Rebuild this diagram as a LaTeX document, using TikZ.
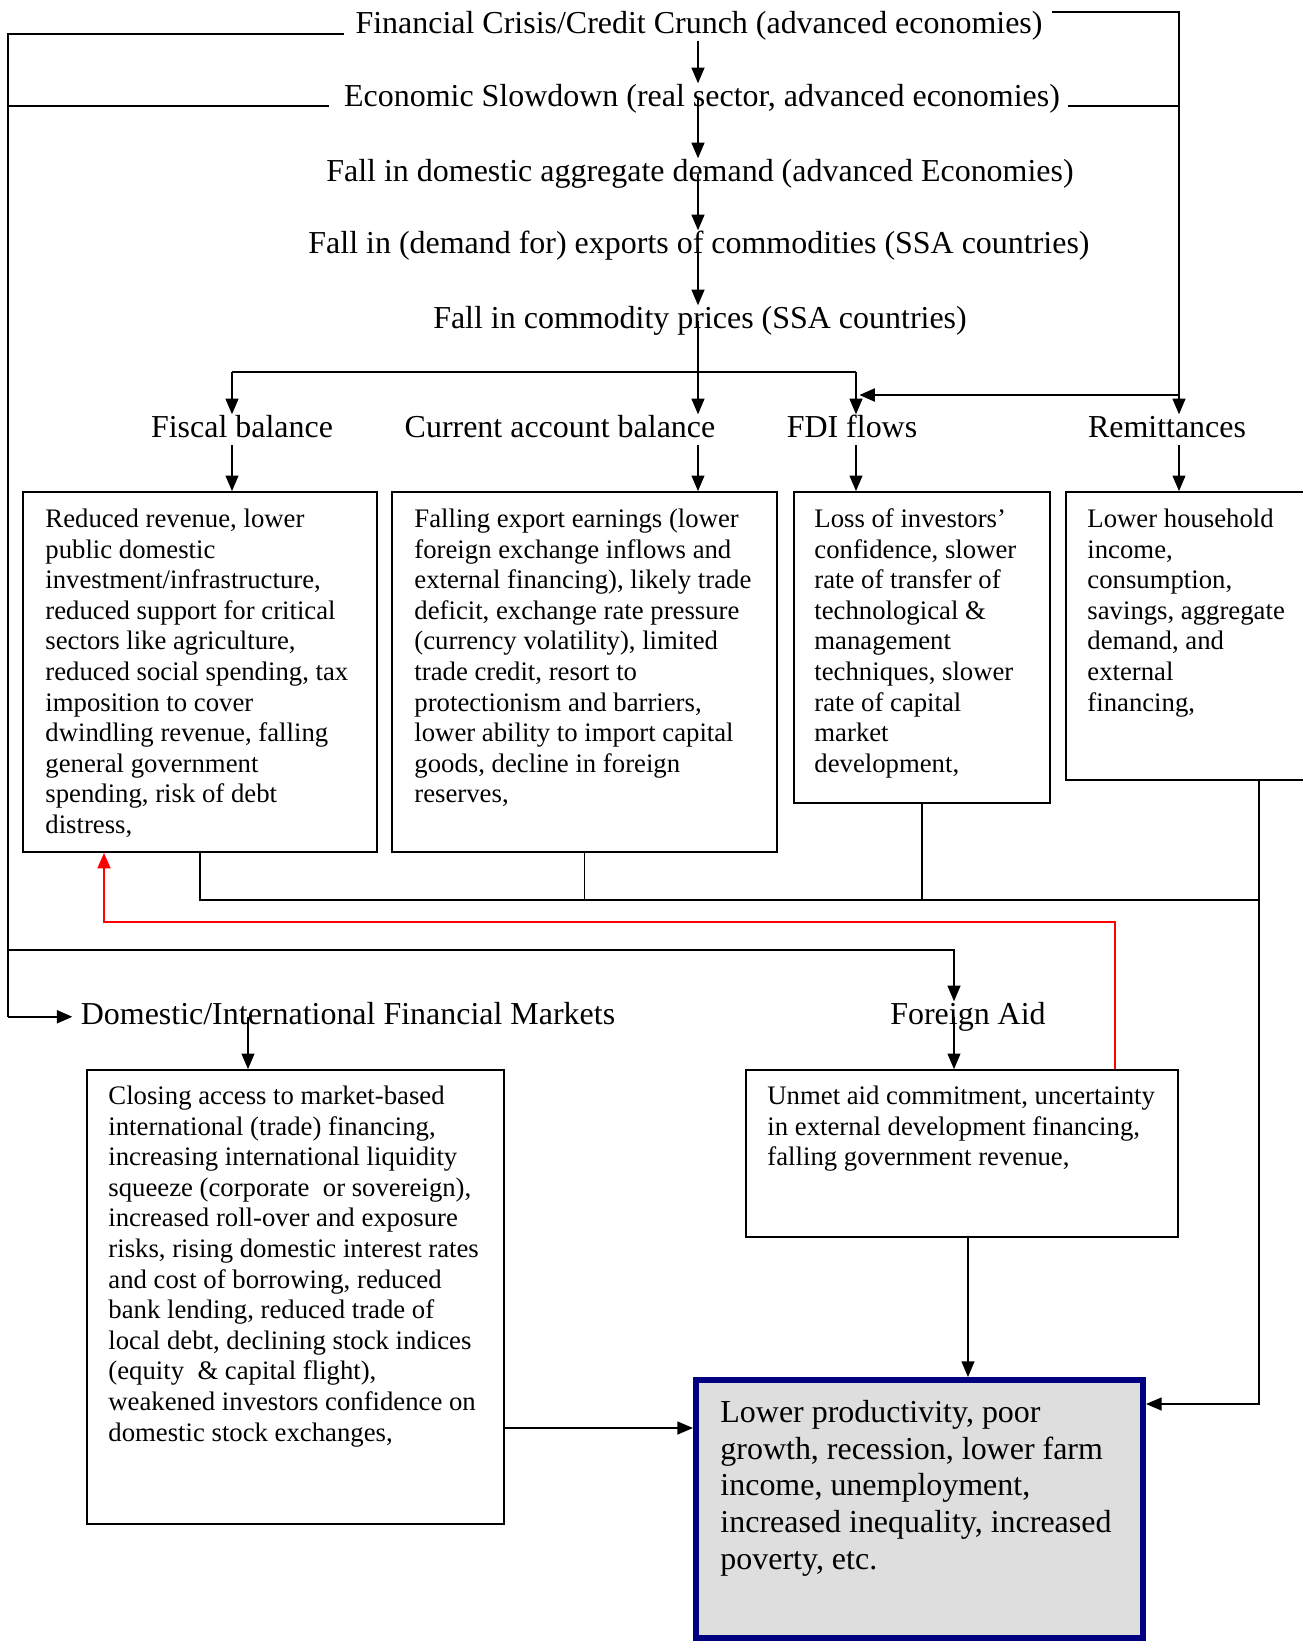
\documentclass[tikz,border=0pt]{standalone}
\usepackage{fontspec}
\setmainfont{Liberation Serif}
\usetikzlibrary{arrows.meta,fit}
\newcommand\hfnt{\fontsize{14.35}{16.4}\selectfont}
\newcommand\bodyfnt{\fontsize{12}{13.74}\selectfont}
\newcommand\finfnt{\fontsize{14.35}{16.5}\selectfont}
\definecolor{navyc}{RGB}{0,0,128}
\definecolor{fingray}{RGB}{222,222,222}
\begin{document}
\begin{tikzpicture}[x=0.449pt,y=-0.449pt,
  lbl/.style={font=\hfnt, inner sep=0pt, text height=10pt, text depth=3.5pt, anchor=base},
  txt/.style={font=\bodyfnt, inner sep=0pt, align=left, anchor=north west},
  fintxt/.style={font=\finfnt, inner sep=0pt, align=left, anchor=north west},
  box/.style={draw, line width=0.8pt, inner sep=0pt},
  finbox/.style={draw=navyc, line width=2.7pt, fill=fingray, inner sep=0pt},
  ln/.style={line width=0.6pt},
  arr/.style={line width=0.6pt, -{Triangle[length=7pt,width=5.8pt]}},
  thickln/.style={line width=1.1pt},
  redarr/.style={draw=red, line width=1.1pt, -{Triangle[length=7pt,width=5.8pt]}, red}
]
\useasboundingbox (0,0) rectangle (1303,1644);

% ---------- boxes ----------
\coordinate (bfA) at (23,492);   \coordinate (bfB) at (377,852);
\coordinate (bcaA) at (392,492); \coordinate (bcaB) at (777,852);
\coordinate (bfdA) at (794,492); \coordinate (bfdB) at (1050,803);
\coordinate (brA) at (1066,492); \coordinate (brB) at (1340,780);
\coordinate (bdA) at (87,1070);  \coordinate (bdB) at (504,1524);
\coordinate (baA) at (746,1070); \coordinate (baB) at (1178,1237);
\coordinate (bnA) at (696,1380); \coordinate (bnB) at (1143,1638);

\node[box, fit=(bfA)(bfB)] (bf) {};
\node[box, fit=(bcaA)(bcaB)] (bca) {};
\node[box, fit=(bfdA)(bfdB)] (bfdi) {};
\node[box, fit=(brA)(brB)] (brem) {};
\node[box, fit=(bdA)(bdB)] (bdif) {};
\node[box, fit=(baA)(baB)] (baid) {};
\node[finbox, fit=(bnA)(bnB)] (bfin) {};

% ---------- labels ----------
\node[lbl] (fc) at (699,33) {Financial Crisis/Credit Crunch (advanced economies)};
\node[lbl] (es) at (702,106) {Economic Slowdown (real sector, advanced economies)};
\node[lbl] (dd) at (700,181) {Fall in domestic aggregate demand (advanced Economies)};
\node[lbl] (ex) at (699,253) {Fall in (demand for) exports of commodities (SSA countries)};
\node[lbl] (cp) at (700,328) {Fall in commodity prices (SSA countries)};
\node[lbl] (fb) at (242,437) {Fiscal balance};
\node[lbl] (cab) at (560,437) {Current account balance};
\node[lbl] (fdi) at (852,437) {FDI flows};
\node[lbl] (rem) at (1167,437) {Remittances};
\node[lbl] (dif) at (348,1024) {Domestic/International Financial Markets};
\node[lbl] (aid) at (968,1024) {Foreign Aid};

% ---------- box texts (first baseline = y + 0.7 baselineskip) ----------
\node[txt] (tfb) at (45,505.6) {\strut Reduced revenue, lower\\public domestic\\investment/infrastructure,\\reduced support for critical\\sectors like agriculture,\\reduced social spending, tax\\imposition to cover\\dwindling revenue, falling\\general government\\spending, risk of debt\\distress,};
\node[txt] (tca) at (414,505.6) {\strut Falling export earnings (lower\\foreign exchange inflows and\\external financing), likely trade\\deficit, exchange rate pressure\\(currency volatility), limited\\trade credit, resort to\\protectionism and barriers,\\lower ability to import capital\\goods, decline in foreign\\reserves,};
\node[txt] (tfd) at (814,505.6) {\strut Loss of investors’\\confidence, slower\\rate of transfer of\\technological \&\\management\\techniques, slower\\rate of capital\\market\\development,};
\node[txt] (trm) at (1087,505.6) {\strut Lower household\\income,\\consumption,\\savings, aggregate\\demand, and\\external\\financing,};
\node[txt] (tdf) at (108,1082.6) {\strut Closing access to market-based\\international (trade) financing,\\increasing international liquidity\\squeeze (corporate~ or sovereign),\\increased roll-over and exposure\\risks, rising domestic interest rates\\and cost of borrowing, reduced\\bank lending, reduced trade of\\local debt, declining stock indices\\(equity~ \& capital flight),\\weakened investors confidence on\\domestic stock exchanges,};
\node[txt] (tad) at (767,1082.6) {\strut Unmet aid commitment, uncertainty\\in external development financing,\\falling government revenue,};
\node[fintxt] (tfn) at (720,1396.3) {\strut Lower productivity, poor\\growth, recession, lower farm\\income, unemployment,\\increased inequality, increased\\poverty, etc.};

% ---------- central spine ----------
\coordinate (sp) at (698,0);
\draw[arr] (fc.south -| sp) -- (es.north -| sp);
\draw[arr] (es.center -| sp) -- (dd.north -| sp);
\draw[arr] (dd.center -| sp) -- (ex.north -| sp);
\draw[arr] (ex.center -| sp) -- (cp.north -| sp);
\draw[arr] (cp.center -| sp) -- (cab.north -| sp);

\coordinate (j1) at (698,372);
\coordinate (fbj) at (232,372);
\coordinate (fdj) at (856,372);
\draw[thickln] (fbj) -- (fdj);
\draw[arr] (fbj) -- (fbj |- fb.north);
\draw[arr] (fdj) -- (fdj |- fdi.north);

% heading -> boxes
\draw[arr] (fbj |- fb.south) -- (fbj |- bf.north);
\draw[arr] (sp |- cab.south) -- (sp |- bca.north);
\draw[arr] (fdj |- fdi.south) -- (fdj |- bfdi.north);

% ---------- right side ----------
\coordinate (fcR) at (1052,12);
\coordinate (rt) at (1179,12);
\draw[arr] (fcR) -- (rt) -- (rt |- rem.north);
\draw[arr] (rt |- rem.south) -- (rt |- brem.north);
\coordinate (esR) at (1068,106);
\draw[ln] (esR) -- (rt |- esR);
\coordinate (rf) at (1179,395);
\draw[arr, thickln] (rf) -- ([xshift=1.5pt]fdj |- rf);

% ---------- left side ----------
\coordinate (fcL) at (344,34);
\coordinate (lx) at (8,34);
\draw[ln] (fcL) -- (lx) -- (lx |- dif.west);
\draw[arr, thickln] (lx |- dif.west) -- ([xshift=-3.6pt]dif.west);
\coordinate (esL) at (329,106);
\draw[ln] (esL) -- (lx |- esL);
\coordinate (la) at (8,950);
\coordinate (aidc) at (954,950);
\draw[arr] (la) -- (aidc) -- (aidc |- aid.north);
\draw[arr] (aidc |- aid.center) -- (aidc |- baid.north);
\coordinate (difx) at (248,0);
\draw[arr] (difx |- dif.center) -- (difx |- bdif.north);

% ---------- merging lines from top boxes ----------
\coordinate (m1) at (200,900);
\coordinate (m4) at (1259,900);
\draw[ln] (bf.south -| m1) -- (m1) -- (m4);
\draw[ln] (bca.south) -- (bca.south |- m1);
\draw[ln] (bfdi.south) -- (bfdi.south |- m1);
\coordinate (rr) at (1259,1404);
\draw[arr] (m4 |- brem.south) -- (rr) -- (rr -| bfin.east);

% ---------- into final box ----------
\coordinate (dl) at (504,1428);
\draw[arr] (bdif.east |- dl) -- (bfin.west |- dl);
\coordinate (fx) at (968,0);
\draw[arr] (fx |- baid.south) -- (fx |- bfin.north);

% ---------- red feedback ----------
\coordinate (rtop) at (1115,922);
\coordinate (rl) at (104,922);
\draw[redarr] (rtop |- baid.north) -- (rtop) -- (rl) -- (rl |- bf.south);
\end{tikzpicture}
\end{document}
